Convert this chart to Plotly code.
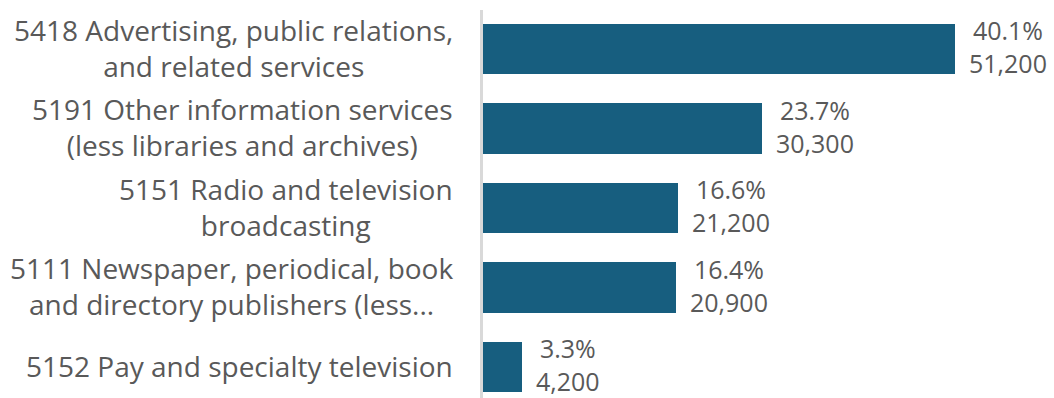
import plotly.graph_objects as go

# Industry categories, top to bottom
categories = [
    "5418 Advertising, public relations,<br>and related services",
    "5191 Other information services<br>(less libraries and archives)",
    "5151 Radio and television<br>broadcasting",
    "5111 Newspaper, periodical, book<br>and directory publishers (less...",
    "5152 Pay and specialty television",
]
employment = [51200, 30300, 21200, 20900, 4200]
shares = ["40.1%", "23.7%", "16.6%", "16.4%", "3.3%"]

BAR_COLOR = "#175e7f"
TEXT_COLOR = "#595959"
FONT = "Open Sans"

# Plot bottom-up so the first category sits at the top
y_pos = list(range(len(categories)))[::-1]

fig = go.Figure(
    go.Bar(
        x=employment,
        y=y_pos,
        orientation="h",
        width=0.63,
        marker=dict(color=BAR_COLOR, line=dict(width=0)),
        hoverinfo="skip",
    )
)

annotations = []
for cat, val, share, yp in zip(categories, employment, shares, y_pos):
    # category label, centred lines, right-aligned block beside the axis
    annotations.append(dict(
        xref="paper", yref="y", x=0, y=yp, text=cat,
        xanchor="right", yanchor="middle", align="center",
        xshift=-28, yshift=1, showarrow=False,
        font=dict(family=FONT, size=28, color=TEXT_COLOR),
    ))
    # value label: share and count at the end of the bar
    annotations.append(dict(
        xref="x", yref="y", x=val, y=yp,
        text=f"{share}<br>{val:,}",
        xanchor="left", yanchor="middle", align="center",
        xshift=12, yshift=2, showarrow=False,
        font=dict(family=FONT, size=25, color=TEXT_COLOR),
    ))

fig.update_layout(
    width=1054, height=398,
    margin=dict(l=483, r=0, t=10, b=0),
    paper_bgcolor="white", plot_bgcolor="white",
    showlegend=False,
    bargap=0,
    xaxis=dict(range=[0, 61939], visible=False, fixedrange=True),
    yaxis=dict(
        range=[-0.39, 4.49], showticklabels=False, showgrid=False,
        zeroline=False, showline=True, linecolor="#d9d9d9", linewidth=2.5,
        ticks="", fixedrange=True,
    ),
    annotations=annotations,
)

fig.write_html("out.html", config={"displayModeBar": False})
